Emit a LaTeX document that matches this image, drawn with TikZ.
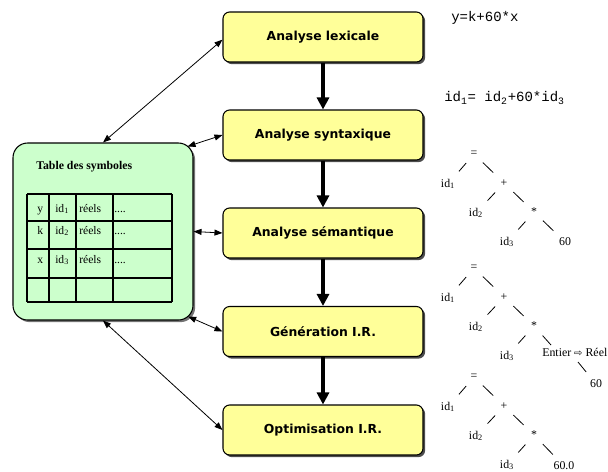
\documentclass[tikz,border=0pt]{standalone}
\usepackage{fontspec}
\setmainfont{Liberation Serif}
\newfontfamily\stagefont{DejaVu Sans}
\newfontfamily\codefont{Liberation Mono}
\newfontfamily\symfont{DejaVu Sans}
\usetikzlibrary{arrows.meta,shadows}
\definecolor{stageyellow}{HTML}{FFFF99}
\definecolor{tablegreen}{HTML}{CCFFCC}

% expression tree without its last leaf: #1 name prefix, #2 vertical shift
\newcommand\exprtree[2]{%
  \begin{scope}[shift={(0,#2)}]
    \node[treetxt] (#1eq)   at (474,154) {=};
    \node[treetxt] (#1ida)  at (448,184) {id\textsubscript{1}};
    \node[treetxt] (#1plus) at (504,183) {+};
    \node[treetxt] (#1idb)  at (476,213) {id\textsubscript{2}};
    \node[treetxt] (#1star) at (534,212) {*};
    \node[treetxt] (#1idc)  at (507,242) {id\textsubscript{3}};
  \end{scope}
  \draw[treeedge] (#1eq) -- (#1ida);
  \draw[treeedge] (#1eq) -- (#1plus);
  \draw[treeedge] (#1plus) -- (#1idb);
  \draw[treeedge] (#1plus) -- (#1star);
  \draw[treeedge] (#1star) -- (#1idc);
}

\begin{document}
\begin{tikzpicture}[x=0.75pt,y=-0.75pt,
  stage/.style={draw=black, line width=0.8pt, rounded corners=5pt,
    fill=stageyellow, minimum width=150pt, minimum height=37.5pt,
    inner sep=0pt, font=\stagefont\bfseries\fontsize{9.3}{11}\selectfont,
    drop shadow={shadow xshift=1.6pt, shadow yshift=-1.6pt,
      fill=black!70, opacity=1}},
  symtab/.style={draw=black, line width=0.8pt, rounded corners=11pt,
    fill=tablegreen, minimum width=135pt, minimum height=132.75pt,
    inner sep=0pt,
    drop shadow={shadow xshift=1.6pt, shadow yshift=-1.6pt,
      fill=black!55, opacity=1}},
  flow/.style={line width=2.3pt, -{Triangle[width=9pt,length=9pt]}},
  link/.style={line width=0.6pt,
    {Triangle[width=4.5pt,length=6pt]}-{Triangle[width=4.5pt,length=6pt]}},
  cell/.style={anchor=base west, inner sep=0pt,
    font=\fontsize{8.7}{10}\selectfont},
  grid/.style={line width=0.8pt},
  treetxt/.style={inner sep=0pt, font=\fontsize{8.9}{10}\selectfont},
  treeedge/.style={line width=0.6pt, shorten <=6pt, shorten >=7.5pt},
  code/.style={anchor=west, inner sep=0pt,
    font=\codefont\fontsize{10.5}{12}\selectfont}
]
\useasboundingbox (0,0) rectangle (608,472);

% compiler stages
\node[stage] (b1) at (323,37)    {Analyse lexicale};
\node[stage] (b2) at (323,135)   {Analyse syntaxique};
\node[stage] (b3) at (323,233)   {Analyse sémantique};
\node[stage] (b4) at (323,331.5) {Génération I.R.};
\node[stage] (b5) at (323,430)   {Optimisation I.R.};

\draw[flow] (b1.south) -- (b2.north);
\draw[flow] (b2.south) -- (b3.north);
\draw[flow] (b3.south) -- (b4.north);
\draw[flow] (b4.south) -- (b5.north);

% symbol table
\node[symtab] (tbl) at (103,231.5) {};
\node[anchor=west, inner sep=0pt, font=\bfseries\fontsize{8.85}{10}\selectfont]
  (title) at (36,167) {Table des symboles};

\foreach \yy in {194,221,249,278,302}
  \draw[grid] (27,\yy) -- (172,\yy);
\foreach \xx in {27,49,76,113,172}
  \draw[grid] (\xx,194) -- (\xx,302);

\node[cell] (ny) at (37,212) {y};
\node[cell] (nk) at (37,234) {k};
\node[cell] (nx) at (37,263) {x};
\node[cell] (ia) at (55,212) {id\textsubscript{1}};
\node[cell] (ib) at (55,234) {id\textsubscript{2}};
\node[cell] (ic) at (55,263) {id\textsubscript{3}};
\node[cell] (ra) at (79,212) {réels};
\node[cell] (rb) at (79,234) {réels};
\node[cell] (rc) at (79,263) {réels};
\node[cell] (da) at (114,212) {....};
\node[cell] (db) at (114,234) {....};
\node[cell] (dc) at (114,263) {....};

% links between the table and the stages
\draw[link] (tbl.north) -- ([yshift=-2pt]b1.west);
\draw[link] ([shift={(-4.5pt,-3pt)}]tbl.north east) -- (b2.west);
\draw[link] (tbl.east) -- (b3.west);
\draw[link] ([shift={(-4pt,3pt)}]tbl.south east) -- (b4.west);
\draw[link] (tbl.south) -- (b5.west);

% source and intermediate forms
\node[code] (src) at (451,18) {y=k+60*x};
\node[code] (ir) at (444,98)
  {id\textsubscript{1}= id\textsubscript{2}+60*id\textsubscript{3}};

% syntax tree
\exprtree{ta}{0}
\node[treetxt] (taleaf) at (565,242) {60};
\draw[treeedge] (tastar) -- (taleaf);

% tree after semantic analysis
\exprtree{tb}{114}
\node[treetxt, anchor=west] (ent) at (542,352)
  {Entier {\symfont\fontsize{7.5}{8}\selectfont ⇨} Réel};
\coordinate (entTop) at (551,345);
\coordinate (entBot) at (578,362);
\draw[treeedge, shorten >=0pt] (tbstar) -- (entTop);
\node[treetxt] (tbleaf) at (596,384) {60};
\draw[treeedge, shorten <=0pt] (entBot) -- (tbleaf);

% optimised tree
\exprtree{tc}{223}
\node[treetxt] (tcleaf) at (564,466) {60.0};
\draw[treeedge] (tcstar) -- (tcleaf);
\end{tikzpicture}
\end{document}
